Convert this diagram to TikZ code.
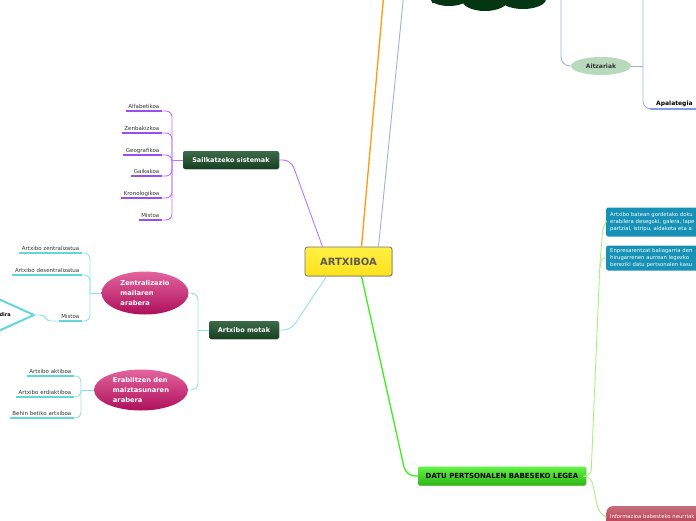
\documentclass[tikz,border=0pt]{standalone}
\usepackage{fontspec}
\setmainfont{DejaVu Sans}
\usetikzlibrary{positioning, shapes.geometric, shapes.misc, shadows}

\definecolor{purpline}{HTML}{B574FF}
\definecolor{purpbar}{HTML}{9C4DEB}
\definecolor{cyanline}{HTML}{92E3E3}
\definecolor{cyanbar}{HTML}{63D7D7}
\definecolor{greenline}{HTML}{3CF01A}
\definecolor{paleline}{HTML}{A6F27F}
\definecolor{orangeline}{HTML}{FF9A0A}
\definecolor{blueline}{HTML}{9AB0E6}
\definecolor{bluebar}{HTML}{7E9EE8}
\definecolor{darkgreen}{HTML}{173F22}
\definecolor{darkgreentop}{HTML}{3C6B48}
\definecolor{cloudgreen}{HTML}{053613}
\definecolor{magtop}{HTML}{E3649E}
\definecolor{magbot}{HTML}{AE0F5B}
\definecolor{rootyellow}{HTML}{FFE21C}
\definecolor{tealbox}{HTML}{1791B6}
\definecolor{redbox}{HTML}{B63A4E}
\definecolor{paleaitz}{HTML}{B9D9BD}

\begin{document}
\begin{tikzpicture}[
    x=1pt, y=-1pt,
    every node/.style={inner sep=0pt},
    rootbox/.style={rectangle, draw=black!55, line width=0.8pt, rounded corners=2.5pt,
      top color=rootyellow!70!yellow!80!white, bottom color=rootyellow, text=black!65,
      font=\fontsize{10}{12}\bfseries\selectfont, minimum width=87pt, minimum height=29pt,
      drop shadow={shadow xshift=0.8pt, shadow yshift=-0.8pt, opacity=0.3}},
    catbox/.style={rectangle, rounded corners=2pt, top color=darkgreentop, bottom color=darkgreen,
      text=white, font=\fontsize{6.5}{8}\bfseries\selectfont, minimum height=18pt,
      drop shadow={shadow xshift=0.8pt, shadow yshift=-0.8pt, opacity=0.3}},
    lawbox/.style={rectangle, rounded corners=2pt, top color=greenline!80!white, bottom color=greenline!75!black,
      text=black, font=\fontsize{7}{8}\bfseries\selectfont, minimum width=168pt, minimum height=19pt,
      drop shadow={shadow xshift=0.8pt, shadow yshift=-0.8pt, opacity=0.3}},
    magell/.style={ellipse, top color=magtop, bottom color=magbot, text=white, align=left,
      font=\fontsize{6.7}{10}\bfseries\selectfont},
    leaf/.style={anchor=south east, text=black!80, font=\fontsize{5.5}{6.5}\selectfont,
      text height=4.2pt, text depth=1pt, inner xsep=2.5pt, inner ysep=1.5pt},
    infobox/.style={rectangle, rounded corners=2pt, fill=tealbox, text=white, align=left,
      anchor=west, font=\fontsize{5.3}{6.6}\selectfont, inner xsep=4pt, text width=88pt},
    purpln/.style={draw=purpline, line width=0.9pt},
    cyanln/.style={draw=cyanline, line width=0.9pt},
    paleln/.style={draw=paleline, line width=0.9pt},
    bluln/.style={draw=blueline, line width=0.9pt}
  ]
  \useasboundingbox (0,0) rectangle (696,520);
  \clip (0,0) rectangle (696,520);

  % centre
  \node[rootbox] (root) at (348.5,261.5) {ARTXIBOA};

  % branches that leave the page at the top
  \coordinate (upOrange) at (384,-8);
  \coordinate (upBlue) at (404,-8);
  \draw[orangeline, line width=1.3pt] ([xshift=13pt]root.north) -- (upOrange);
  \draw[bluln] ([xshift=30pt]root.north) -- (upBlue);

  % cloud cut by the top edge
  \fill[cloudgreen] (432,-12) rectangle (544,3);
  \fill[cloudgreen] (449,-2) ellipse [x radius=19, y radius=8];
  \fill[cloudgreen] (485,0) ellipse [x radius=23, y radius=11];
  \fill[cloudgreen] (523,-1) ellipse [x radius=23, y radius=10];

  % Aitzariak
  \node[ellipse, fill=paleaitz, text=black!80, font=\fontsize{6}{7}\bfseries\selectfont,
    minimum width=60pt, minimum height=18pt] (aitz) at (601,66) {Aitzariak};
  \coordinate (upAitz) at (561,-8);
  \coordinate (upApal) at (643,-8);
  \draw[bluln, rounded corners=9pt] (upAitz) |- (aitz.west);
  \draw[bluln] (aitz.east) -- (643,66);
  \node[anchor=south west, font=\fontsize{6}{7}\bfseries\selectfont, inner xsep=6pt, inner ysep=2pt,
    text height=4.5pt, text depth=1pt] (apal) at (650,109) {Apalategia};
  \draw[bluebar, line width=2.5pt] (apal.south west) -- ++(60,0);
  \draw[bluln, rounded corners=8pt] (upApal) |- (apal.south west);

  % Sailkatzeko sistemak
  \node[catbox, minimum width=96pt] (sail) at (231,160) {Sailkatzeko sistemak};
  \draw[purpln, rounded corners=8pt] ([xshift=-26pt]root.north) -- (291,160) -- (sail.east);
  \foreach \txt/\yy [count=\i] in {Alfabetikoa/111, Zenbakizkoa/133, Geografikoa/155,
      Gaikakoa/176, Kronologikoa/198, Mistoa/220} {
    \node[leaf] (s\i) at (162,\yy) {\txt};
    \draw[purpbar, line width=2.5pt] (s\i.south west) -- (s\i.south east);
    \draw[purpln, rounded corners=6pt] (s\i.south east) -| (172,160);
  }
  \draw[purpln] (172,160) -- (sail.west);

  % Artxibo motak
  \node[catbox, minimum width=70pt] (mota) at (244,330) {Artxibo motak};
  \draw[cyanln, rounded corners=8pt] ([xshift=-22pt]root.south) -- (291,330) -- (mota.east);
  \node[magell, minimum width=87pt, minimum height=43pt] (zent) at (145,293)
    {Zentralizazio\\mailaren\\arabera};
  \node[magell, minimum width=94pt, minimum height=41pt] (erab) at (141,390)
    {Erabiltzen den\\maiztasunaren\\arabera};
  \draw[cyanln] (mota.west) -- (198,330);
  \draw[cyanln, rounded corners=7pt] (198,330) |- (zent.east);
  \draw[cyanln, rounded corners=7pt] (198,330) |- (erab.east);

  \foreach \txt/\yy [count=\i] in {Artxibo zentralizatua/253, Artxibo desentralizatua/275, Mistoa/321} {
    \node[leaf] (z\i) at (82,\yy) {\txt};
    \draw[cyanbar, line width=2.5pt] (z\i.south west) -- (z\i.south east);
    \draw[cyanln, rounded corners=6pt] (z\i.south east) -| (90,293);
  }
  \draw[cyanln] (90,293) -- (zent.west);

  \foreach \txt/\yy [count=\i] in {Artxibo aktiboa/376, Artxibo erdiaktiboa/397, Behin betiko artxiboa/418} {
    \node[leaf] (e\i) at (74,\yy) {\txt};
    \draw[cyanbar, line width=2.5pt] (e\i.south west) -- (e\i.south east);
    \draw[cyanln, rounded corners=6pt] (e\i.south east) -| (81,390);
  }
  \draw[cyanln] (81,390) -- (erab.west);

  % the cut triangle left of Mistoa
  \coordinate (diraTip) at (34,315);
  \draw[cyanbar, line width=2pt, line join=round] (-6,297) -- (diraTip) -- (-6,333);
  \node[anchor=east, font=\fontsize{5}{6}\bfseries\selectfont] (dira) at (11,315) {dira};
  \draw[cyanln, rounded corners=4pt] (z3.south west) -- (47,321) -- (44,315) -- (diraTip);

  % Datu pertsonalen babeseko legea
  \node[lawbox] (datu) at (502,476) {DATU PERTSONALEN BABESEKO LEGEA};
  \draw[greenline, line width=1.3pt, rounded corners=9pt] ([xshift=13pt]root.south) -- (406,476) -- (datu.west);

  \node[infobox, minimum height=29pt] (info1) at (606,222)
    {Artxibo batean gordetako doku\\erabilera desegoki, galera, lape\\partzial, istripu, aldaketa eta a};
  \node[infobox, minimum height=25pt] (info2) at (606,258)
    {Enpresarentzat baliagarria den\\hirugarrenen aurrean legezko\\bereziki datu pertsonalen kasu};
  \node[rectangle, rounded corners=7pt, top color=redbox!75!white, bottom color=redbox, text=white,
    anchor=west, font=\fontsize{5.3}{6}\selectfont, inner xsep=4pt, text width=88pt,
    minimum height=22pt] (neur) at (606,517) {Informazioa babesteko neurriak};

  \draw[paleln, rounded corners=6pt] (datu.east) -- (591,476) -- (600,262) -- (603,226) -- (info1.west);
  \draw[paleln, rounded corners=4pt] (600,268) -- (601,258) -- (info2.west);
  \draw[paleln, rounded corners=8pt] (datu.east) -- (591,476) -- (599,514) -- (neur.west);

\end{tikzpicture}
\end{document}
